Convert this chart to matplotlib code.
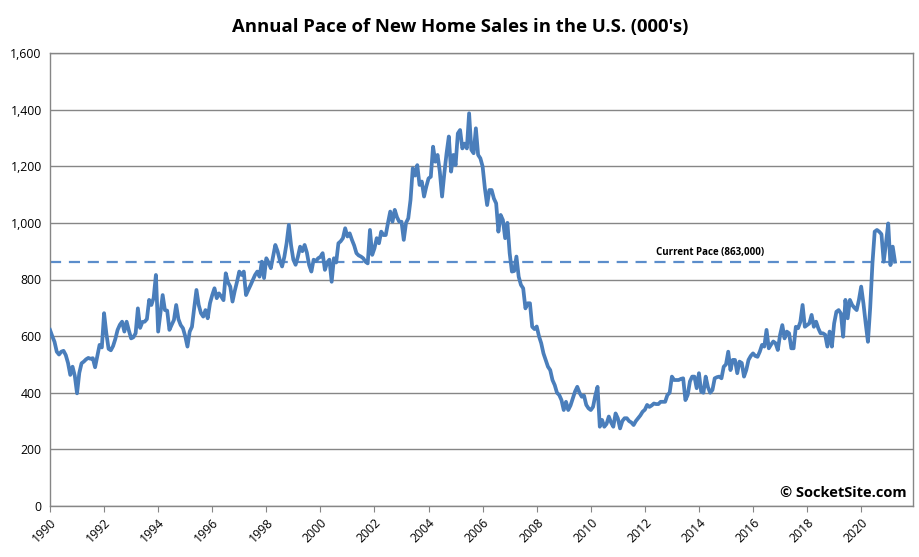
import matplotlib.pyplot as plt
import numpy as np

# monthly annualized pace (000's), Jan 1990 - Apr 2021
sales_1990s = [
    622, 600, 580, 545, 535, 545, 548, 533, 505, 463, 492, 460,
    398, 470, 504, 510, 518, 523, 520, 522, 490, 530, 569, 560,
    681, 610, 555, 550, 565, 590, 622, 640, 651, 616, 651, 620,
    592, 596, 610, 698, 629, 650, 651, 660, 728, 710, 735, 816,
    616, 680, 745, 692, 690, 622, 640, 657, 710, 660, 639, 628,
    600, 563, 616, 633, 700, 763, 710, 681, 669, 692, 663, 716,
    745, 769, 734, 751, 740, 727, 822, 790, 775, 722, 760, 792,
    828, 816, 828, 745, 763, 780, 798, 816, 828, 810, 863, 805,
    875, 860, 840, 880, 922, 900, 868, 846, 880, 928, 993, 920,
    870, 852, 880, 916, 900, 922, 895, 851, 828, 870, 865, 875,
]
sales_2000s = [
    880, 893, 834, 860, 870, 792, 875, 860, 928, 935, 946, 981,
    952, 963, 940, 920, 893, 885, 881, 875, 863, 857, 975, 887,
    910, 946, 928, 969, 957, 957, 1000, 1040, 1004, 1046, 1020, 1004,
    1004, 940, 1000, 1016, 1081, 1193, 1167, 1204, 1134, 1146, 1093, 1128,
    1157, 1163, 1269, 1216, 1240, 1181, 1093, 1175, 1246, 1305, 1181, 1240,
    1204, 1316, 1328, 1263, 1280, 1263, 1387, 1258, 1246, 1334, 1240, 1228,
    1199, 1122, 1063, 1116, 1116, 1086, 1069, 969, 1028, 1010, 946, 1000,
    893, 828, 830, 881, 810, 781, 769, 698, 716, 716, 633, 625,
    634, 600, 575, 539, 516, 492, 480, 445, 427, 400, 392, 374,
    339, 368, 339, 355, 380, 404, 421, 400, 386, 390, 357, 345,
]
sales_2010s = [
    339, 350, 390, 421, 280, 304, 280, 290, 316, 295, 280, 327,
    310, 274, 300, 310, 310, 300, 295, 286, 300, 310, 320, 333,
    340, 357, 350, 355, 362, 360, 360, 368, 368, 368, 392, 400,
    457, 445, 445, 445, 449, 451, 374, 392, 440, 457, 457, 416,
    469, 404, 400, 457, 420, 400, 410, 451, 455, 457, 451, 492,
    500, 545, 480, 516, 516, 469, 510, 505, 457, 480, 516, 530,
    539, 530, 527, 545, 569, 563, 622, 557, 570, 581, 575, 551,
    604, 639, 592, 616, 610, 557, 557, 633, 628, 650, 710, 633,
    639, 645, 675, 633, 651, 627, 610, 610, 605, 563, 616, 563,
    645, 686, 692, 680, 598, 728, 663, 728, 710, 700, 692, 728,
]
sales_2020s = [
    775, 716, 645, 580, 700, 857, 969, 975, 969, 960, 863, 928,
    998, 851, 916, 863,
]
current_pace = 863
year_ticks = list(range(1990, 2021, 2))

sales = sales_1990s + sales_2000s + sales_2010s + sales_2020s
months = np.arange(len(sales))

plt.rcParams['font.family'] = ['Open Sans', 'DejaVu Sans']

fig = plt.figure(figsize=(9.2, 5.57), dpi=100)
ax = fig.add_axes([50 / 920, 51 / 557, 863 / 920, 453 / 557])

ax.plot(months, sales, color='#4a7ebb', lw=2.7, solid_joinstyle='round', zorder=3)
ax.axhline(current_pace, color='#5b8dcb', lw=1.6, dashes=(5, 3.5), zorder=2)
ax.text(293, current_pace + 13, "Current Pace (863,000)", ha='center', va='bottom',
        fontsize=7, fontweight='bold', color='black')
ax.text(0.993, 0.028, "\u00a9 SocketSite.com", transform=ax.transAxes, ha='right',
        va='center', fontsize=10.5, fontweight='bold', color='black')

ax.set_xlim(0, 383)
ax.set_ylim(0, 1600)
ax.set_yticks(range(0, 1601, 200))
ax.set_yticklabels([f"{v:,}" for v in range(0, 1601, 200)], fontsize=8.8)
ax.set_xticks([(y - 1990) * 12 for y in year_ticks])
ax.set_xticklabels([str(y) for y in year_ticks], rotation=45, ha='right',
                   rotation_mode='anchor', fontsize=8.8)
ax.grid(axis='y', color='#868686', lw=1)
ax.set_axisbelow(True)
for s in ax.spines.values():
    s.set_color('#868686')
    s.set_linewidth(1)
ax.tick_params(axis='y', length=0, pad=6)
ax.tick_params(axis='x', length=4, color='#868686', pad=3)

fig.text(0.5, 1 - 27 / 557, "Annual Pace of New Home Sales in the U.S. (000's)",
         ha='center', va='center', fontsize=13.3, fontweight='bold')

fig.savefig('out.png', dpi=100)
